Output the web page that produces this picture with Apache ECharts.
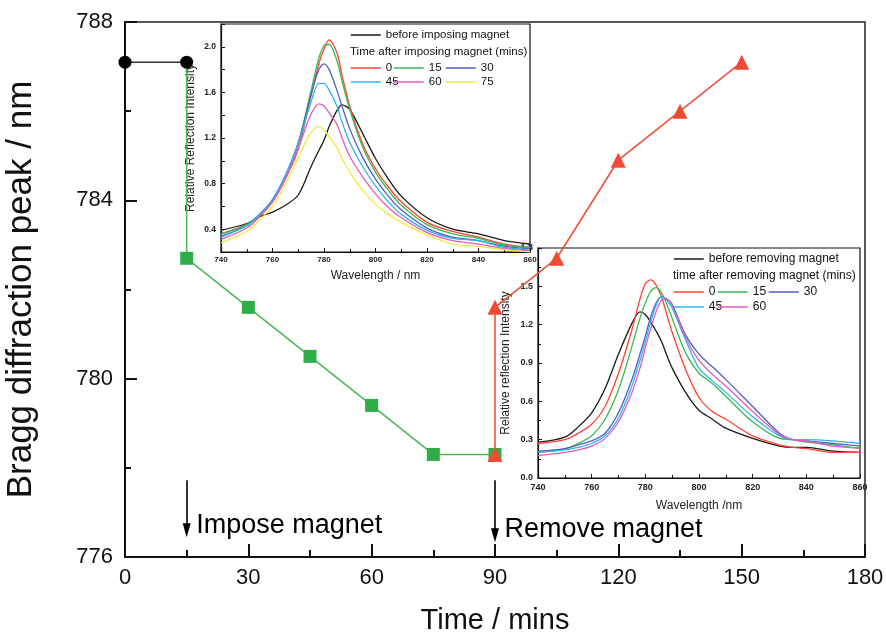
<!DOCTYPE html>
<html>
<head>
<meta charset="utf-8">
<script src="https://cdn.jsdelivr.net/npm/echarts@6/dist/echarts.min.js"></script>
<style>html,body{margin:0;padding:0;background:#fff}#c{width:886px;height:635px}</style>
</head>
<body>
<div id="c"></div>
<script>
// ---- main chart data ----
const blackTimes = [0, 15];
const blackPeaks = [787.1, 787.1];
const greenTimes = [15, 15, 30, 45, 60, 75, 90];
const greenPeaks = [787.1, 782.7, 781.6, 780.5, 779.4, 778.3, 778.3];
const redTimes = [90, 90, 105, 120, 135, 150];
const redPeaks = [778.3, 781.6, 782.7, 784.9, 786.0, 787.1];
const xTicks = [0, 30, 60, 90, 120, 150, 180];
const yTicks = [776, 780, 784, 788];
const noteTimes = [15, 90];
const noteY = [776.7, 776.62];
const noteTexts = ['Impose magnet', 'Remove magnet'];
const arrowTop = [777.72, 777.72];
const arrowHead = [776.6, 776.49];

// ---- inset 1: imposing magnet ----
const W1 = [740, 750, 755, 760, 765, 770, 775, 778, 780, 782, 785, 787, 790, 795, 800, 805, 810, 820, 830, 840, 850, 860];
const before1 = [0.39,0.45,0.51,0.55,0.61,0.70,0.95,1.09,1.18,1.30,1.44,1.49,1.45,1.24,1.02,0.84,0.69,0.50,0.40,0.36,0.30,0.27];
const imp0  = [0.36,0.44,0.52,0.64,0.84,1.10,1.58,1.85,1.98,2.06,1.95,1.75,1.48,1.15,0.93,0.77,0.64,0.46,0.38,0.33,0.27,0.24];
const imp15 = [0.36,0.44,0.53,0.65,0.86,1.15,1.62,1.90,2.01,2.02,1.88,1.70,1.45,1.12,0.90,0.74,0.61,0.44,0.36,0.32,0.26,0.24];
const imp30 = [0.34,0.43,0.53,0.66,0.87,1.16,1.58,1.80,1.85,1.80,1.62,1.48,1.28,1.03,0.84,0.69,0.57,0.41,0.33,0.30,0.25,0.23];
const imp45 = [0.33,0.43,0.53,0.66,0.87,1.15,1.52,1.68,1.68,1.62,1.48,1.34,1.16,0.95,0.78,0.64,0.53,0.39,0.32,0.30,0.24,0.22];
const imp60 = [0.31,0.41,0.51,0.64,0.84,1.11,1.41,1.50,1.48,1.42,1.32,1.20,1.04,0.86,0.71,0.59,0.50,0.37,0.30,0.27,0.23,0.21];
const imp75 = [0.28,0.38,0.48,0.60,0.79,1.03,1.25,1.30,1.27,1.21,1.12,1.02,0.90,0.74,0.62,0.53,0.46,0.35,0.27,0.25,0.22,0.20];

// ---- inset 2: removing magnet ----
const W2 = [740, 750, 755, 760, 765, 770, 775, 778, 780, 782, 784, 786, 788, 790, 795, 800, 805, 810, 820, 830, 835, 840, 850, 860];
const before2 = [0.28,0.32,0.40,0.51,0.70,0.97,1.21,1.30,1.28,1.22,1.15,1.07,0.96,0.86,0.67,0.53,0.46,0.39,0.31,0.25,0.24,0.24,0.21,0.20];
const rem0  = [0.27,0.30,0.35,0.42,0.56,0.82,1.16,1.40,1.52,1.55,1.51,1.42,1.28,1.14,0.85,0.63,0.52,0.46,0.33,0.26,0.24,0.23,0.20,0.20];
const rem15 = [0.20,0.23,0.27,0.33,0.46,0.69,1.03,1.25,1.37,1.46,1.49,1.45,1.36,1.25,0.98,0.82,0.74,0.64,0.44,0.31,0.30,0.28,0.26,0.23];
const rem30 = [0.21,0.23,0.26,0.29,0.35,0.51,0.77,0.97,1.11,1.26,1.37,1.42,1.40,1.36,1.12,0.97,0.87,0.77,0.56,0.35,0.30,0.29,0.27,0.25];
const rem45 = [0.20,0.22,0.24,0.27,0.33,0.47,0.72,0.92,1.07,1.22,1.35,1.42,1.39,1.33,1.08,0.86,0.76,0.67,0.48,0.33,0.30,0.30,0.29,0.27];
const rem60 = [0.175,0.20,0.22,0.25,0.31,0.44,0.67,0.86,1.02,1.17,1.30,1.39,1.40,1.35,1.10,0.92,0.81,0.72,0.52,0.34,0.30,0.29,0.25,0.235];

const C = {black:'#1a1a1a', red:'#ff4232', green:'#3cb850', blue:'#4d5fc4', cyan:'#30b4ee', pink:'#e45cb8', yellow:'#f2ea3a'};
const FONT = '"Liberation Sans", Arial, sans-serif';

const zip = (xs, ys) => xs.map((x, i) => [x, ys[i]]);

function curve(name, W, vals, color, idx) {
  return {
    name: name, type: 'line', xAxisIndex: idx, yAxisIndex: idx,
    data: zip(W, vals), smooth: 0.3, symbol: 'none', showSymbol: false,
    lineStyle: {color: color, width: 1.3}, itemStyle: {color: color},
    z: 4, silent: true
  };
}

function lg(names, left, top, gap, fs) {
  return {
    data: names, left: left, top: top, itemGap: gap,
    padding: 0, itemWidth: 30, itemHeight: 14, selectedMode: false,
    orient: 'vertical', formatter: n => n.slice(1),
    itemStyle: {opacity: 0},
    lineStyle: {width: 1.5},
    textStyle: {fontSize: fs, color: '#111', fontFamily: FONT}
  };
}

function insetX(gi, fs, margin, nameGap, name) {
  return {
    gridIndex: gi, type: 'value', min: 740, max: 860, interval: 20, z: 3,
    name: name, nameLocation: 'middle', nameGap: nameGap,
    nameTextStyle: {fontSize: 12, color: '#222', fontFamily: FONT},
    axisLine: {show: true, lineStyle: {color: '#111', width: 1.2}},
    axisTick: {show: true, inside: true, length: 4, lineStyle: {color: '#111'}},
    minorTick: {show: true, splitNumber: 2, length: 3, lineStyle: {color: '#111'}},
    axisLabel: {fontSize: fs, fontWeight: 'bold', color: '#222', margin: margin, fontFamily: FONT},
    splitLine: {show: false}
  };
}

const chart = echarts.init(document.getElementById('c'));
const option = {
  animation: false,
  textStyle: {fontFamily: FONT},
  title: [
    {text: 'Time after imposing magnet (mins)', left: 350, top: 46, padding: 0,
     textStyle: {fontSize: 11.5, fontWeight: 'normal', color: '#111', fontFamily: FONT}},
    {text: 'time after removing magnet (mins)', left: 673, top: 270, padding: 0,
     textStyle: {fontSize: 12, fontWeight: 'normal', color: '#111', fontFamily: FONT}}
  ],
  legend: [
    lg(['Abefore imposing magnet'], 350, 29, 2, 11.5),
    lg(['A0', 'A45'], 350, 62, 2, 11.5),
    lg(['A15', 'A60'], 393, 62, 2, 11.5),
    lg(['A30', 'A75'], 445, 62, 2, 11.5),
    lg(['Bbefore removing magnet'], 673, 253, 2, 12),
    lg(['B0', 'B45'], 673, 286, 3, 12),
    lg(['B15', 'B60'], 717, 286, 3, 12),
    lg(['B30'], 768, 286, 3, 12)
  ],
  grid: [
    {left: 125, top: 22, width: 740, height: 535, show: true, borderColor: '#222', borderWidth: 1.5, z: 0,
     outerBoundsMode: 'none', containLabel: false},
    {left: 221, top: 24, width: 309, height: 228, show: true, backgroundColor: '#fff', borderColor: '#111', borderWidth: 1.2, z: 1,
     outerBoundsMode: 'none', containLabel: false},
    {left: 538, top: 248, width: 322, height: 230, show: true, backgroundColor: '#fff', borderColor: '#111', borderWidth: 1.2, z: 1,
     outerBoundsMode: 'none', containLabel: false}
  ],
  xAxis: [
    {
      gridIndex: 0, type: 'value', min: xTicks[0], max: xTicks[xTicks.length - 1], interval: 30,
      name: 'Time / mins', nameLocation: 'middle', nameGap: 49,
      nameTextStyle: {fontSize: 29, color: '#111', fontFamily: FONT},
      axisLine: {show: true, lineStyle: {color: '#111', width: 2}},
      axisTick: {show: true, inside: true, length: 13, lineStyle: {color: '#111', width: 2}},
      minorTick: {show: true, splitNumber: 2, length: 7, lineStyle: {color: '#111', width: 2}},
      axisLabel: {fontSize: 22, color: '#111', margin: 10, fontFamily: FONT},
      splitLine: {show: false}
    },
    insetX(1, 8, 4, 18, 'Wavelength / nm'),
    insetX(2, 9, 5, 22, 'Wavelength /nm')
  ],
  yAxis: [
    {
      gridIndex: 0, type: 'value', min: yTicks[0], max: yTicks[yTicks.length - 1], interval: 4,
      name: 'Bragg diffraction peak / nm', nameLocation: 'middle', nameGap: 86,
      nameTextStyle: {fontSize: 35, color: '#111', fontFamily: FONT},
      axisLine: {show: true, lineStyle: {color: '#111', width: 2}},
      axisTick: {show: true, inside: true, length: 12, lineStyle: {color: '#111', width: 2}},
      minorTick: {show: true, splitNumber: 2, length: 6, lineStyle: {color: '#111', width: 2}},
      axisLabel: {fontSize: 22, color: '#111', margin: 12, fontFamily: FONT},
      splitLine: {show: false}
    },
    {
      gridIndex: 1, type: 'value', min: 0.2, max: 2.2, interval: 0.2, z: 3,
      name: 'Relative Reflection Intensity', nameLocation: 'middle', nameGap: 24,
      nameTextStyle: {fontSize: 12, color: '#222', fontFamily: FONT},
      axisLine: {show: true, lineStyle: {color: '#111', width: 1.2}},
      axisTick: {show: true, inside: true, length: 4, lineStyle: {color: '#111'}},
      axisLabel: {fontSize: 8.5, fontWeight: 'bold', color: '#222', margin: 5, fontFamily: FONT,
        formatter: v => (Math.round(v * 10) % 4 === 0 ? v.toFixed(1) : '')},
      splitLine: {show: false}
    },
    {
      gridIndex: 2, type: 'value', min: 0, max: 1.8, interval: 0.3, z: 3,
      name: 'Relative reflection Intensity', nameLocation: 'middle', nameGap: 26,
      nameTextStyle: {fontSize: 12, color: '#222', fontFamily: FONT},
      axisLine: {show: true, lineStyle: {color: '#111', width: 1.2}},
      axisTick: {show: true, inside: true, length: 4, lineStyle: {color: '#111'}},
      minorTick: {show: true, splitNumber: 2, length: 3, lineStyle: {color: '#111'}},
      axisLabel: {fontSize: 9, fontWeight: 'bold', color: '#222', margin: 5, fontFamily: FONT,
        formatter: v => v.toFixed(1)},
      splitLine: {show: false}
    }
  ],
  series: [
    curve('Abefore imposing magnet', W1, before1, C.black, 1),
    curve('A0', W1, imp0, C.red, 1),
    curve('A15', W1, imp15, C.green, 1),
    curve('A30', W1, imp30, C.blue, 1),
    curve('A45', W1, imp45, C.cyan, 1),
    curve('A60', W1, imp60, C.pink, 1),
    curve('A75', W1, imp75, C.yellow, 1),
    curve('Bbefore removing magnet', W2, before2, C.black, 2),
    curve('B0', W2, rem0, C.red, 2),
    curve('B15', W2, rem15, C.green, 2),
    curve('B30', W2, rem30, C.blue, 2),
    curve('B45', W2, rem45, C.cyan, 2),
    curve('B60', W2, rem60, C.pink, 2),
    {
      name: 'main-green', type: 'line', xAxisIndex: 0, yAxisIndex: 0, z: 10,
      data: zip(greenTimes, greenPeaks).map((p, i) => i === 0 ? {value: p, symbol: 'none'} : p),
      symbol: 'rect', symbolSize: 13, showAllSymbol: true,
      lineStyle: {color: '#4cba52', width: 1.6}, itemStyle: {color: '#2fae48'}
    },
    {
      name: 'main-red', type: 'line', xAxisIndex: 0, yAxisIndex: 0, z: 11,
      data: zip(redTimes, redPeaks),
      symbol: 'triangle', symbolSize: 15, showAllSymbol: true,
      lineStyle: {color: '#f0503c', width: 1.6}, itemStyle: {color: '#ef4a34'}
    },
    {
      name: 'main-black', type: 'line', xAxisIndex: 0, yAxisIndex: 0, z: 12,
      data: zip(blackTimes, blackPeaks),
      symbol: 'circle', symbolSize: 13, showAllSymbol: true,
      lineStyle: {color: '#333', width: 1.5}, itemStyle: {color: '#000'}
    },
    {
      name: 'notes', type: 'scatter', xAxisIndex: 0, yAxisIndex: 0, z: 9, silent: true,
      data: zip(noteTimes, noteY), symbolSize: 1, itemStyle: {color: 'rgba(0,0,0,0)', opacity: 1},
      label: {show: true, position: 'right', distance: 9, fontSize: 27, color: '#000', opacity: 1, fontFamily: FONT,
        formatter: p => noteTexts[p.dataIndex]},
      markLine: {
        silent: true, symbol: ['none', 'none'],
        label: {show: false},
        lineStyle: {color: '#000', width: 1.6, type: 'solid', opacity: 1},
        data: noteTimes.map((t, i) => [{coord: [t, arrowTop[i]]}, {coord: [t, arrowHead[i]]}])
      }
    },
    {
      name: 'arrowheads', type: 'scatter', xAxisIndex: 0, yAxisIndex: 0, z: 9, silent: true,
      data: zip(noteTimes, arrowHead), symbol: 'triangle', symbolSize: [8, 14], symbolRotate: 180,
      itemStyle: {color: '#000', opacity: 1}
    }
  ]
};
chart.setOption(option);
</script>
</body>
</html>
